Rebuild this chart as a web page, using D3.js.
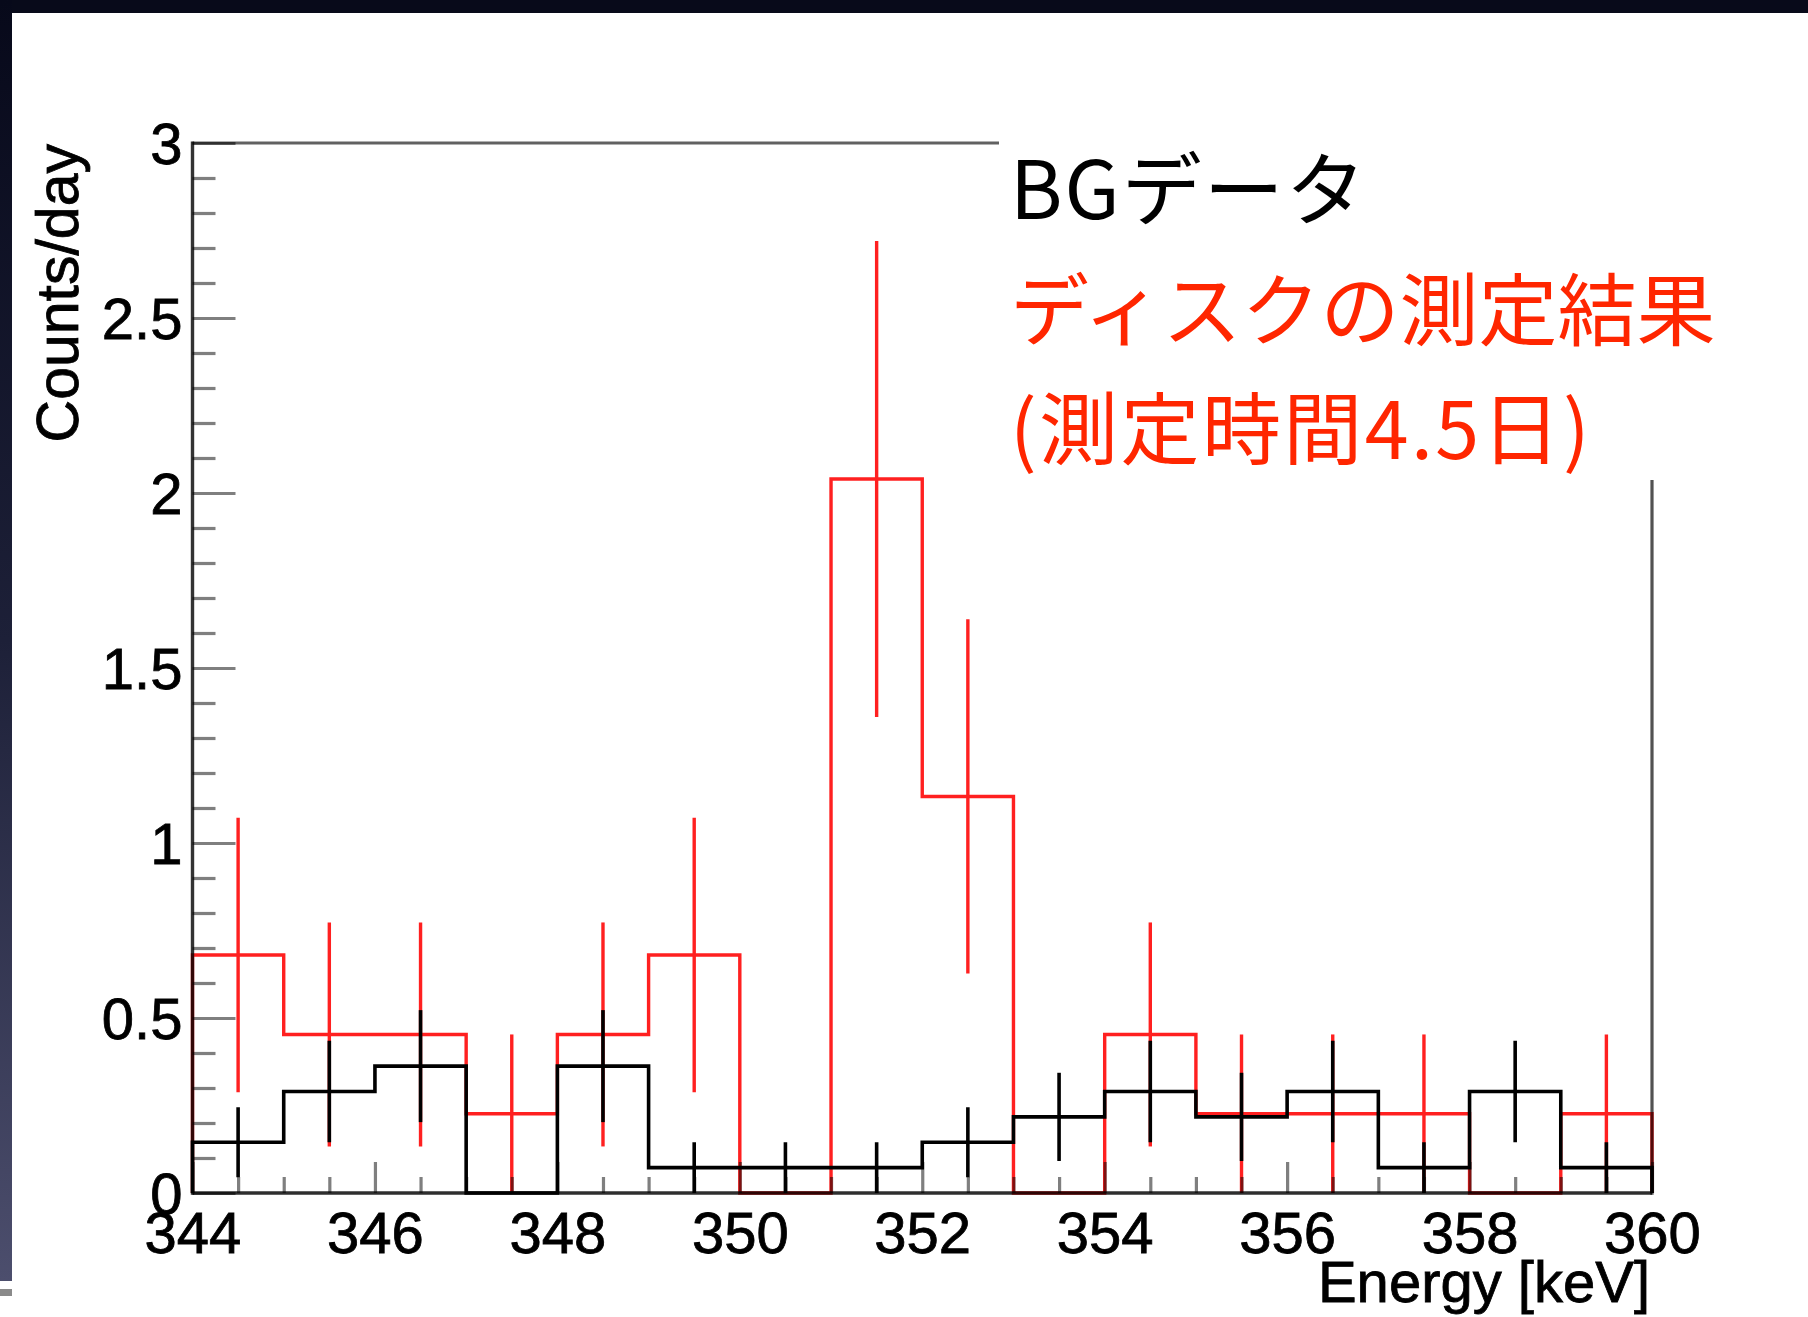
<!DOCTYPE html>
<html><head><meta charset="utf-8">
<script src="https://cdn.jsdelivr.net/npm/d3@7"></script>
<style>html,body{margin:0;padding:0;background:#fff;overflow:hidden} svg{display:block}</style>
</head><body>
<svg id="c" width="1808" height="1317"></svg>
<script>
// ---------- data ----------
const binEdges   = [344,345,346,347,348,349,350,351,352,353,354,355,356,357,358,359,360];
const bgValues   = [0.145,0.29,0.3625,0,0.3625,0.0725,0.0725,0.0725,0.145,0.2175,0.29,0.2175,0.29,0.0725,0.29,0.0725];
const bgErrors   = [0.10,0.145,0.16,0,0.16,0.0725,0.0725,0.0725,0.10,0.126,0.145,0.126,0.145,0.0725,0.145,0.0725];
const discValues = [0.68,0.453,0.453,0.2265,0.453,0.68,0,2.04,1.133,0,0.453,0.2265,0.2265,0.2265,0,0.2265];
const discErrors = [0.392,0.32,0.32,0.2265,0.32,0.392,0,0.68,0.506,0,0.32,0.2265,0.2265,0.2265,0,0.2265];
const xMajorTicks = [344,346,348,350,352,354,356,358,360];
const xTickLabels = ["344","346","348","350","352","354","356","358","360"];
const xMinorTicks = [344.5,345,345.5,346.5,347,347.5,348.5,349,349.5,350.5,351,351.5,352.5,353,353.5,354.5,355,355.5,356.5,357,357.5,358.5,359,359.5];
const yMajorTicks = [0,0.5,1,1.5,2,2.5,3];
const yTickLabels = ["0","0.5","1","1.5","2","2.5","3"];
const yMinorTicks = [0.1,0.2,0.3,0.4,0.6,0.7,0.8,0.9,1.1,1.2,1.3,1.4,1.6,1.7,1.8,1.9,2.1,2.2,2.3,2.4,2.6,2.7,2.8,2.9];
const xTitle = "Energy [keV]";
const yTitle = "Counts/day";
const legendBG = "BGデータ";
const legendDisc = ["ディスクの測定結果","(測定時間4.5日)"];

// ---------- layout ----------
const W = 1808, H = 1317;
const L = 192.5, R = 1652, T = 143, B = 1193;
const svg = d3.select("#c");
const x = d3.scaleLinear().domain([344,360]).range([L,R]);
const y = d3.scaleLinear().domain([0,3]).range([B,T]);
const latin = "'Liberation Sans', Arial, Helvetica, sans-serif";
const cjk = "'Noto Sans CJK JP', 'Noto Sans', sans-serif";
const RED = "#ff2020";

// background frame of the slide
const defs = svg.append("defs");
const g1 = defs.append("linearGradient").attr("id","lstrip").attr("x1",0).attr("y1",0).attr("x2",0).attr("y2",1);
g1.append("stop").attr("offset","0").attr("stop-color","#07091a");
g1.append("stop").attr("offset","0.5").attr("stop-color","#1d2038");
g1.append("stop").attr("offset","1").attr("stop-color","#4c4e6d");
svg.append("rect").attr("x",0).attr("y",0).attr("width",W).attr("height",H).attr("fill","#fff");
svg.append("rect").attr("x",0).attr("y",0).attr("width",W).attr("height",13).attr("fill","#080a1a");
svg.append("rect").attr("x",0).attr("y",0).attr("width",12).attr("height",1281).attr("fill","url(#lstrip)");
svg.append("rect").attr("x",0).attr("y",1289).attr("width",12).attr("height",7).attr("fill","#8a8a8a");

// ---------- histograms ----------
function stepPoints(vals){
  const pts = [[binEdges[0],0]];
  vals.forEach((v,i)=>{ pts.push([binEdges[i],v]); pts.push([binEdges[i+1],v]); });
  pts.push([binEdges[binEdges.length-1],0]);
  return pts;
}
const line = d3.line().x(d=>x(d[0])).y(d=>y(d[1]));
function drawHist(vals, errs, color, w){
  const g = svg.append("g");
  g.append("path").attr("d", line(stepPoints(vals)))
    .attr("fill","none").attr("stroke",color).attr("stroke-width",w)
    .attr("stroke-linejoin","miter");
  g.selectAll("line.err").data(vals.map((v,i)=>({v, e:errs[i], c:(binEdges[i]+binEdges[i+1])/2})).filter(d=>d.v>0))
    .enter().append("line")
    .attr("x1",d=>x(d.c)).attr("x2",d=>x(d.c))
    .attr("y1",d=>y(Math.max(0,d.v-d.e))).attr("y2",d=>y(d.v+d.e))
    .attr("stroke",color).attr("stroke-width",w);
}
drawHist(discValues, discErrors, RED, 3.4);
drawHist(bgValues, bgErrors, "#000", 3.6);

// ---------- axes ----------
const tickCol = "rgba(0,0,0,0.5)";
function styleAxis(g, stroke){
  g.select(".domain").remove();
  g.selectAll(".tick line").attr("stroke",stroke).attr("stroke-width",3.2);
  g.selectAll(".tick text").attr("fill","#000").attr("font-size",58).attr("font-family",latin)
    .attr("stroke","#000").attr("stroke-width",0.8);
}
const yMinor = svg.append("g").attr("transform",`translate(${L},0)`)
  .call(d3.axisLeft(y).tickValues(yMinorTicks).tickSize(-23).tickFormat(""));
styleAxis(yMinor, tickCol);
const yMajor = svg.append("g").attr("transform",`translate(${L},0)`)
  .call(d3.axisLeft(y).tickValues(yMajorTicks).tickSize(-43).tickPadding(10)
        .tickFormat((d,i)=>yTickLabels[i]));
styleAxis(yMajor, tickCol);
yMajor.selectAll(".tick text").attr("dy","0.36em");

const xMinor = svg.append("g").attr("transform",`translate(0,${B})`)
  .call(d3.axisBottom(x).tickValues(xMinorTicks).tickSize(-16).tickFormat(""));
styleAxis(xMinor, tickCol);
const xMajor = svg.append("g").attr("transform",`translate(0,${B})`)
  .call(d3.axisBottom(x).tickValues(xMajorTicks).tickSize(-31).tickPadding(19)
        .tickFormat((d,i)=>xTickLabels[i]));
styleAxis(xMajor, tickCol);

// frame
svg.append("line").attr("x1",L).attr("x2",R).attr("y1",B).attr("y2",B)
  .attr("stroke","rgba(0,0,0,0.82)").attr("stroke-width",3.6);
svg.append("line").attr("x1",L).attr("x2",L).attr("y1",T-1.5).attr("y2",B+1.8)
  .attr("stroke","rgba(0,0,0,0.8)").attr("stroke-width",3.4);
svg.append("line").attr("x1",L).attr("x2",R).attr("y1",T).attr("y2",T)
  .attr("stroke","rgba(0,0,0,0.62)").attr("stroke-width",3.2);
svg.append("line").attr("x1",R).attr("x2",R).attr("y1",T).attr("y2",B+1.8)
  .attr("stroke","rgba(0,0,0,0.68)").attr("stroke-width",3.2);

// titles
svg.append("text").attr("x",R-2).attr("y",1302).attr("text-anchor","end")
  .attr("font-family",latin).attr("font-size",58).attr("fill","#000")
  .attr("stroke","#000").attr("stroke-width",0.8).text(xTitle);
svg.append("text").attr("transform",`translate(78,${T+1}) rotate(-90)`).attr("text-anchor","end")
  .attr("font-family",latin).attr("font-size",59).attr("fill","#000")
  .attr("stroke","#000").attr("stroke-width",0.8).text(yTitle);

// ---------- legend ----------
svg.append("rect").attr("x",999).attr("y",T-4).attr("width",720).attr("height",480-(T-4)).attr("fill","#fff");
svg.append("text").attr("x",1010).attr("y",219).attr("font-family",cjk).attr("font-size",80)
  .attr("letter-spacing",2).attr("fill","#000").text(legendBG);
svg.append("text").attr("x",1010).attr("y",340).attr("font-family",cjk).attr("font-size",79)
  .attr("fill","#ff2600").text(legendDisc[0]);
svg.append("text").attr("x",1010).attr("y",459).attr("font-family",cjk).attr("font-size",79)
  .attr("letter-spacing",2.4).attr("fill","#ff2600").text(legendDisc[1]);
</script>
</body></html>
